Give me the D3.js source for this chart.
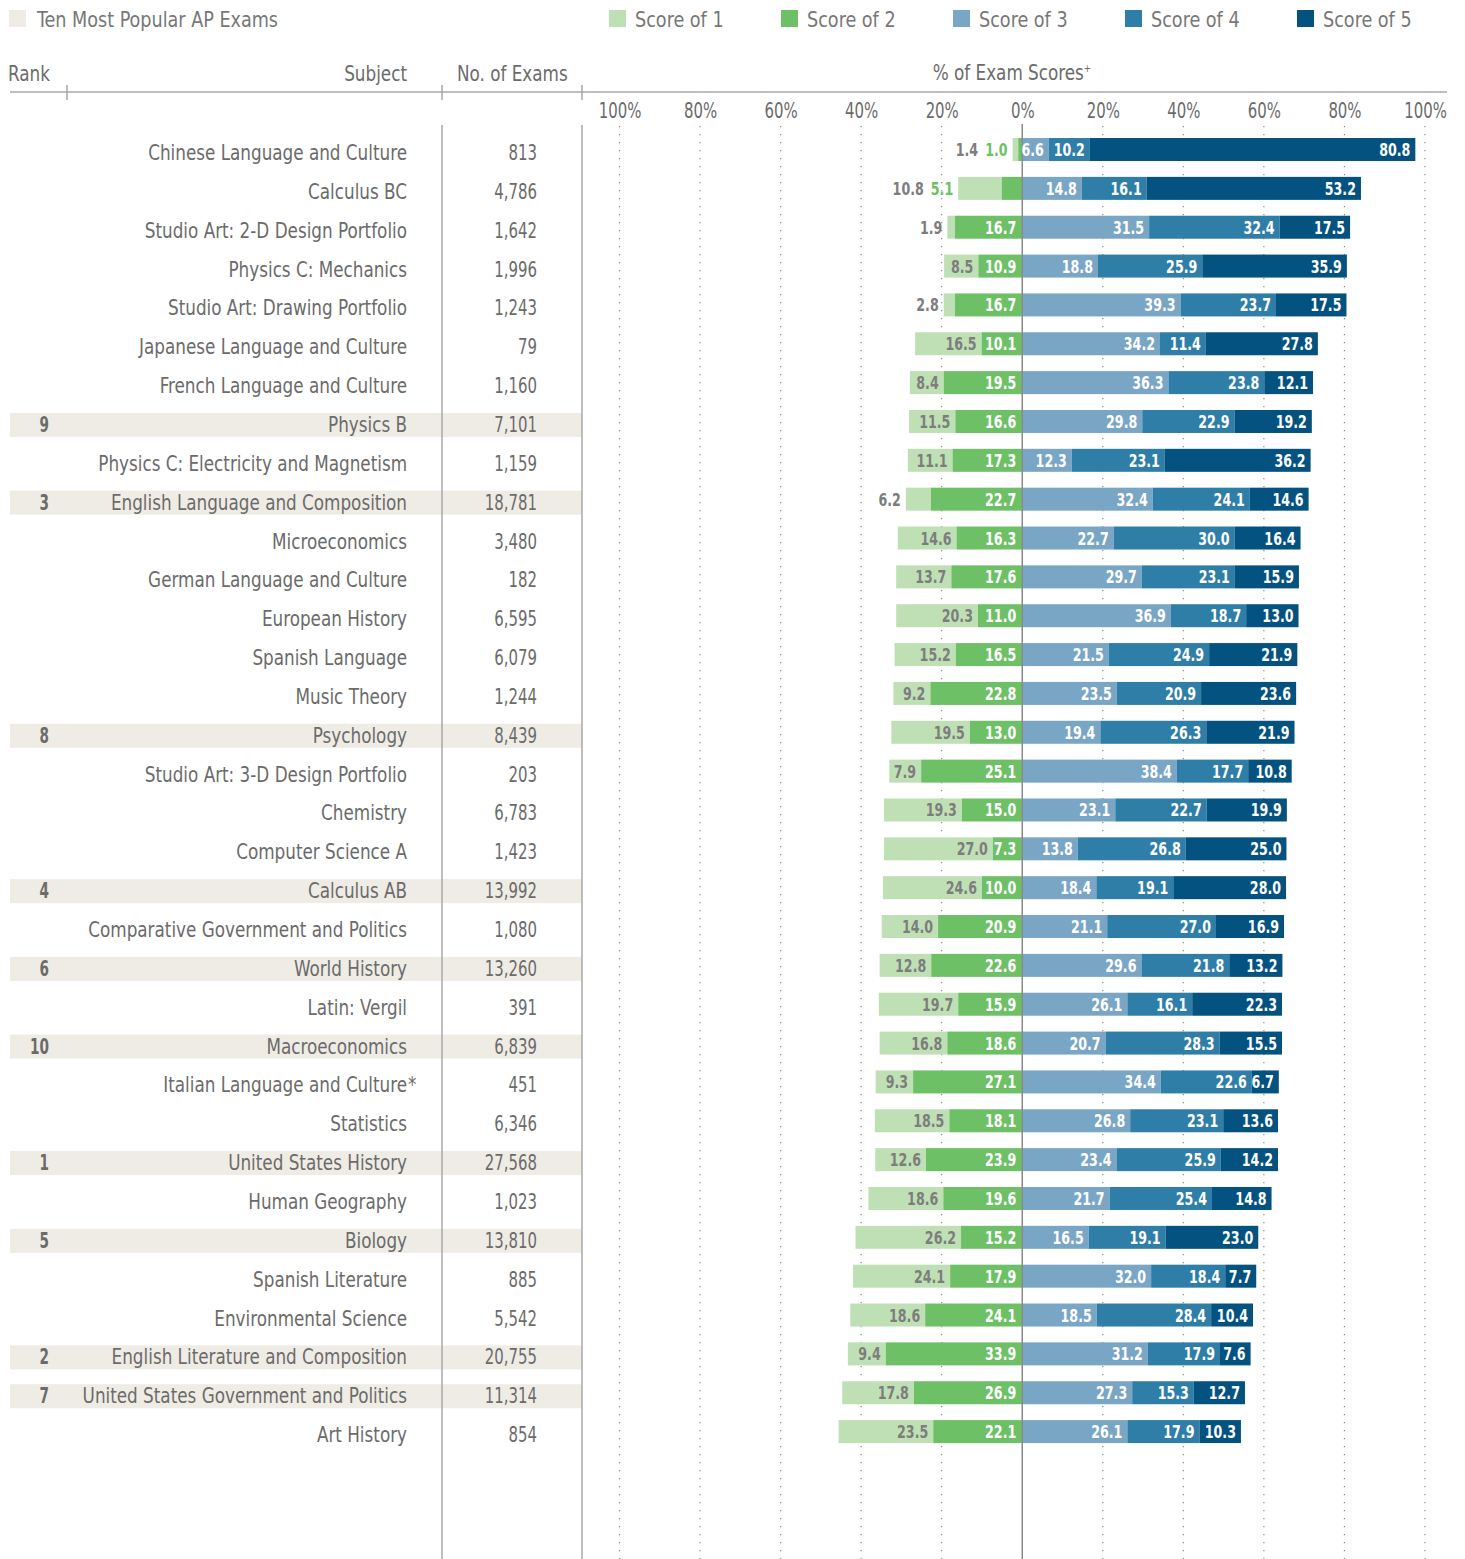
<!DOCTYPE html>
<html>
<head>
<meta charset="utf-8">
<script src="https://cdn.jsdelivr.net/npm/d3@7"></script>
<style>
    body { margin: 0; background: #fff; }
    svg text { font-family: 'DejaVu Sans Condensed', 'DejaVu Sans', sans-serif; }
</style>
</head>
<body>
<svg width="1465" height="1559"></svg>
<script>
const subjects = [
    'Chinese Language and Culture', 'Calculus BC', 'Studio Art: 2-D Design Portfolio',
    'Physics C: Mechanics', 'Studio Art: Drawing Portfolio', 'Japanese Language and Culture',
    'French Language and Culture', 'Physics B', 'Physics C: Electricity and Magnetism',
    'English Language and Composition', 'Microeconomics', 'German Language and Culture',
    'European History', 'Spanish Language', 'Music Theory', 'Psychology',
    'Studio Art: 3-D Design Portfolio', 'Chemistry', 'Computer Science A', 'Calculus AB',
    'Comparative Government and Politics', 'World History', 'Latin: Vergil', 'Macroeconomics',
    'Italian Language and Culture*', 'Statistics', 'United States History', 'Human Geography',
    'Biology', 'Spanish Literature', 'Environmental Science', 'English Literature and Composition',
    'United States Government and Politics', 'Art History'
];
const exams = [813, 4786, 1642, 1996, 1243, 79, 1160, 7101, 1159, 18781, 3480, 182, 6595, 6079,
    1244, 8439, 203, 6783, 1423, 13992, 1080, 13260, 391, 6839, 451, 6346, 27568, 1023, 13810,
    885, 5542, 20755, 11314, 854];
const ranks = [null, null, null, null, null, null, null, 9, null, 3, null, null, null, null,
    null, 8, null, null, null, 4, null, 6, null, 10, null, null, 1, null, 5, null, null, 2, 7, null];

const score1 = [1.4, 10.8, 1.9, 8.5, 2.8, 16.5, 8.4, 11.5, 11.1, 6.2, 14.6, 13.7, 20.3, 15.2,
    9.2, 19.5, 7.9, 19.3, 27.0, 24.6, 14.0, 12.8, 19.7, 16.8, 9.3, 18.5, 12.6, 18.6, 26.2, 24.1,
    18.6, 9.4, 17.8, 23.5];
const score2 = [1.0, 5.1, 16.7, 10.9, 16.7, 10.1, 19.5, 16.6, 17.3, 22.7, 16.3, 17.6, 11.0, 16.5,
    22.8, 13.0, 25.1, 15.0, 7.3, 10.0, 20.9, 22.6, 15.9, 18.6, 27.1, 18.1, 23.9, 19.6, 15.2, 17.9,
    24.1, 33.9, 26.9, 22.1];
const score3 = [6.6, 14.8, 31.5, 18.8, 39.3, 34.2, 36.3, 29.8, 12.3, 32.4, 22.7, 29.7, 36.9, 21.5,
    23.5, 19.4, 38.4, 23.1, 13.8, 18.4, 21.1, 29.6, 26.1, 20.7, 34.4, 26.8, 23.4, 21.7, 16.5, 32.0,
    18.5, 31.2, 27.3, 26.1];
const score4 = [10.2, 16.1, 32.4, 25.9, 23.7, 11.4, 23.8, 22.9, 23.1, 24.1, 30.0, 23.1, 18.7, 24.9,
    20.9, 26.3, 17.7, 22.7, 26.8, 19.1, 27.0, 21.8, 16.1, 28.3, 22.6, 23.1, 25.9, 25.4, 19.1, 18.4,
    28.4, 17.9, 15.3, 17.9];
const score5 = [80.8, 53.2, 17.5, 35.9, 17.5, 27.8, 12.1, 19.2, 36.2, 14.6, 16.4, 15.9, 13.0, 21.9,
    23.6, 21.9, 10.8, 19.9, 25.0, 28.0, 16.9, 13.2, 22.3, 15.5, 6.7, 13.6, 14.2, 14.8, 23.0, 7.7,
    10.4, 7.6, 12.7, 10.3];

const scoreNames = ['Score of 1', 'Score of 2', 'Score of 3', 'Score of 4', 'Score of 5'];
const tickValues = [-100, -80, -60, -40, -20, 0, 20, 40, 60, 80, 100];

const colors = ['#bfe0b4', '#6dc066', '#7aa6c6', '#2f7ea8', '#04527f'];
const grey = '#6b6b6b';
const lineGrey = '#a8a8a8';
const bandColor = '#efece5';

// the original face is a narrow grotesque; squeeze the condensed fallback horizontally
const SX_WORD = 0.89;
const SX_NUM = 0.79;
const SX_BOLD = 0.76;

function txt(parent, x, y, s, sx) {
    return parent.append('text')
        .attr('transform', `translate(${x},${y}) scale(${sx},1)`)
        .text(s);
}

function renderChart() {
    const svg = d3.select('svg');
    const height = +svg.attr('height');

    const x = d3.scaleLinear().domain([-100, 100]).range([619.5, 1425]);
    const y = d3.scaleBand().domain(subjects).range([130.1, 130.1 + 34 * 38.85]);
    const mid = s => y(s) + y.bandwidth() / 2;
    const barH = 23;

    const rows = subjects.map((s, i) => ({
        subject: s,
        exams: exams[i],
        rank: ranks[i],
        v: [score1[i], score2[i], score3[i], score4[i], score5[i]],
    }));

    // legend
    const legend = svg.append('g').attr('class', 'legend').attr('font-size', 22).attr('fill', '#777');
    legend.append('rect')
        .attr('x', 9).attr('y', 10).attr('width', 17).attr('height', 17)
        .attr('fill', bandColor);
    txt(legend, 37, 27, 'Ten Most Popular AP Exams', SX_WORD);

    scoreNames.forEach((name, i) => {
        legend.append('rect')
            .attr('x', 609 + i * 172).attr('y', 10)
            .attr('width', 17).attr('height', 17)
            .attr('fill', colors[i]);
        txt(legend, 635 + i * 172, 27, name, SX_WORD);
    });

    // header
    const head = svg.append('g').attr('class', 'header').attr('fill', grey).attr('font-size', 21);
    txt(head, 8, 81, 'Rank', SX_WORD);
    txt(head, 407, 81, 'Subject', SX_WORD).attr('text-anchor', 'end');
    txt(head, 457, 81, 'No. of Exams', SX_WORD);
    const pct = txt(head, 1012, 80, '', SX_WORD).attr('text-anchor', 'middle');
    pct.append('tspan').text('% of Exam Scores');
    pct.append('tspan').attr('font-size', 11).attr('dy', -8).text('+');

    svg.append('line')
        .attr('x1', 10).attr('x2', 1447).attr('y1', 92).attr('y2', 92)
        .attr('stroke', lineGrey).attr('stroke-width', 1.5);
    svg.selectAll('line.htick')
        .data([67, 442, 582])
        .enter()
        .append('line')
        .attr('class', 'htick')
        .attr('x1', d => d).attr('x2', d => d)
        .attr('y1', 85).attr('y2', 100)
        .attr('stroke', lineGrey).attr('stroke-width', 1.5);

    // highlight bands for the top ten
    svg.append('g')
        .selectAll('rect')
        .data(rows.filter(d => d.rank !== null))
        .enter()
        .append('rect')
        .attr('x', 10).attr('width', 572)
        .attr('y', d => mid(d.subject) - 8.5)
        .attr('height', 24)
        .attr('fill', bandColor);

    // column rules
    svg.selectAll('line.col')
        .data([442, 582])
        .enter()
        .append('line')
        .attr('class', 'col')
        .attr('x1', d => d).attr('x2', d => d)
        .attr('y1', 125).attr('y2', height)
        .attr('stroke', lineGrey).attr('stroke-width', 1.5);

    // x axis on top, dotted grid
    const axis = svg.append('g')
        .attr('transform', 'translate(0,118)')
        .call(d3.axisTop(x).tickValues(tickValues).tickSize(0).tickFormat(d => `${Math.abs(d)}%`));
    axis.select('.domain').remove();
    axis.attr('font-family', null).attr('font-size', null);
    axis.selectAll('text')
        .attr('font-size', 21)
        .attr('fill', grey)
        .attr('y', 0)
        .attr('dy', 0)
        .attr('transform', `scale(${SX_NUM},1)`);

    svg.append('g')
        .selectAll('line')
        .data(tickValues.filter(d => d !== 0))
        .enter()
        .append('line')
        .attr('x1', d => x(d)).attr('x2', d => x(d))
        .attr('y1', 126).attr('y2', height)
        .attr('stroke', '#8a8a8a')
        .attr('stroke-width', 1.2)
        .attr('stroke-dasharray', '1.2,6.8');

    // table text
    const table = svg.append('g').attr('font-size', 21).attr('fill', grey);
    rows.forEach((d) => {
        const ty = mid(d.subject) + 10.5;
        if (d.rank !== null) {
            txt(table, 49, ty, d.rank, 0.72)
                .attr('text-anchor', 'end')
                .attr('font-weight', 'bold');
        }
        txt(table, 407, ty, d.subject.replace('*', ''), SX_WORD).attr('text-anchor', 'end');
        if (d.subject.endsWith('*')) txt(table, 408, ty, '*', SX_WORD);
        txt(table, 537, ty, d3.format(',')(d.exams), SX_NUM).attr('text-anchor', 'end');
    });

    // stacked bars: scores 1-2 to the left of zero, 3-5 to the right
    const segs = [];
    rows.forEach((d) => {
        segs.push({ row: d, k: 1, x0: -(d.v[0] + d.v[1]), x1: -d.v[1] });
        segs.push({ row: d, k: 2, x0: -d.v[1], x1: 0 });
        let c = 0;
        [2, 3, 4].forEach((j) => {
            segs.push({ row: d, k: j + 1, x0: c, x1: c + d.v[j] });
            c += d.v[j];
        });
    });

    svg.append('g')
        .selectAll('rect')
        .data(segs)
        .enter()
        .append('rect')
        .attr('x', d => x(d.x0))
        .attr('width', d => x(d.x1) - x(d.x0))
        .attr('y', d => mid(d.row.subject) - barH / 2)
        .attr('height', barH)
        .attr('fill', d => colors[d.k - 1]);

    svg.append('line')
        .attr('x1', x(0)).attr('x2', x(0))
        .attr('y1', 124).attr('y2', height)
        .attr('stroke', '#8a8a8a').attr('stroke-width', 1.5);

    // value labels
    const labels = svg.append('g')
        .attr('font-size', 18.5)
        .attr('font-weight', 'bold')
        .attr('text-anchor', 'end');

    rows.forEach((d) => {
        const cy = mid(d.subject) + 6.5;
        const left = x(-(d.v[0] + d.v[1]));
        let edge;

        // score 2
        const small2 = d.v[1] < 6;
        const t2 = txt(labels, small2 ? left - 5 : x(0) - 6, cy, d.v[1].toFixed(1), SX_BOLD)
            .attr('fill', small2 ? colors[1] : '#fff');
        if (small2) edge = left - 5 - t2.node().getComputedTextLength() * SX_BOLD - 7;
        else edge = left - 5;

        // score 1
        const small1 = d.v[0] < 7 || small2;
        txt(labels, small1 ? edge : x(-d.v[1]) - 5, cy, d.v[0].toFixed(1), SX_BOLD)
            .attr('fill', '#7d7d7d');

        // scores 3-5
        let c = 0;
        [2, 3, 4].forEach((j) => {
            c += d.v[j];
            txt(labels, x(c) - 5, cy, d.v[j].toFixed(1), SX_BOLD).attr('fill', '#fff');
        });
    });
}

renderChart();
</script>
</body>
</html>
